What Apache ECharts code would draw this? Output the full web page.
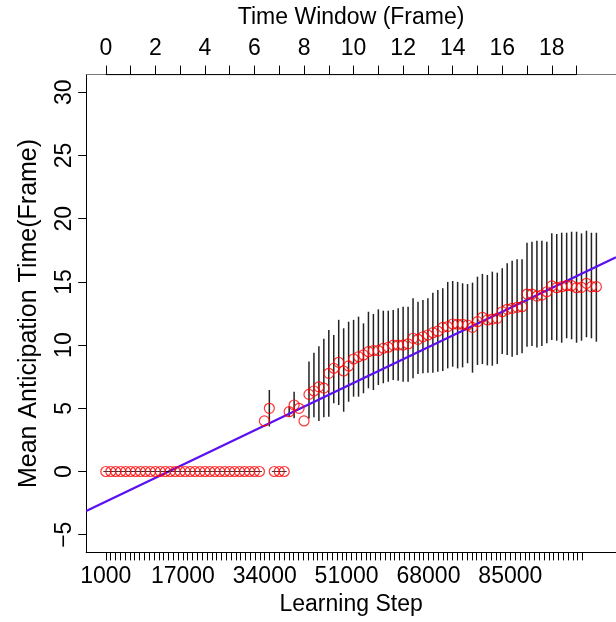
<!DOCTYPE html>
<html>
<head>
<meta charset="utf-8">
<script src="https://cdn.jsdelivr.net/npm/echarts@6/dist/echarts.min.js"></script>
<style>
html,body{margin:0;padding:0;background:#fff;}
#chart{width:616px;height:622px;}
</style>
</head>
<body>
<div id="chart"></div>
<script>
// ---- data ----
// learning steps 1000..100000 (one point every 1000 steps)
const stepCount = 100;
// mean anticipation time (frames), one per learning step
const meanTime = [
  0,0,0,0,0,0,0,0,0,0,
  0,0,0,0,0,0,0,0,0,0,
  0,0,0,0,0,0,0,0,0,0,
  0,0,4.0,5.0,0,0,0,4.73,5.26,5.0,
  4.0,6.1,6.37,6.7,6.6,7.77,8.17,8.64,7.95,8.35,
  8.9,9.08,9.22,9.48,9.56,9.56,9.75,9.83,10.0,10.0,
  10.0,10.09,10.54,10.46,10.66,10.8,10.98,11.1,11.4,11.46,
  11.67,11.65,11.65,11.59,11.4,11.85,12.2,11.99,12.06,12.12,
  12.64,12.83,12.91,12.99,13.04,14.04,14.04,13.88,13.96,14.22,
  14.68,14.54,14.62,14.7,14.7,14.54,14.57,14.89,14.62,14.62
];
// error bar upper ends (null = no bar)
const errHigh = [
  null,null,null,null,null,null,null,null,null,null,
  null,null,null,null,null,null,null,null,null,null,
  null,null,null,null,null,null,null,null,null,null,
  null,null,null,6.45,null,null,null,5.13,6.31,null,
  null,8.7,9.4,9.9,10.5,11.2,10.8,12.0,11.33,11.85,
  12.0,12.25,11.72,12.64,12.46,12.83,12.72,12.72,12.78,12.91,
  13.04,13.04,13.7,13.43,13.57,13.7,14.15,14.36,14.5,15.0,
  15.07,15.0,14.89,14.83,14.94,15.41,15.63,15.55,15.81,15.73,
  16.08,16.47,16.68,16.79,16.79,18.1,18.18,18.26,18.26,18.18,
  18.84,18.79,18.89,18.89,18.97,18.97,18.84,19.05,18.89,18.89
];
// error bar lower ends
const errLow = [
  null,null,null,null,null,null,null,null,null,null,
  null,null,null,null,null,null,null,null,null,null,
  null,null,null,null,null,null,null,null,null,null,
  null,null,null,3.56,null,null,null,4.34,4.21,null,
  null,4.2,4.3,4.0,4.3,4.34,5.4,5.26,4.73,5.52,
  5.92,5.92,6.19,6.58,6.45,6.84,6.98,7.1,7.24,7.18,
  7.1,7.1,7.37,7.71,7.77,7.82,7.82,7.9,7.95,8.16,
  8.29,8.16,8.24,8.56,7.82,8.43,8.5,8.4,8.37,8.5,
  9.3,9.22,9.08,9.22,9.35,9.87,9.93,9.82,9.93,10.14,
  10.4,10.35,10.19,10.54,10.46,10.19,10.35,10.62,10.54,10.27
];
// fitted regression line (in frame units)
const fitIntercept = -2.38;
const fitSlope = 0.9385;
// tick labels
const bottomLabels = [1000, 17000, 34000, 51000, 68000, 85000];
const topLabels = [0, 2, 4, 6, 8, 10, 12, 14, 16, 18];
const yLabels = [-5, 0, 5, 10, 15, 20, 25, 30];

// ---- build ----
const stepsPerFrame = 5; // points per frame on the top axis
const frameOf = i => i / stepsPerFrame;
const pts = [], zeroMarks = [], bars = [];
for (let i = 0; i < stepCount; i++) {
  pts.push([frameOf(i), meanTime[i]]);
  if (meanTime[i] === 0) zeroMarks.push([frameOf(i), 0]);
  if (errHigh[i] !== null) bars.push([frameOf(i), errLow[i], errHigh[i]]);
}
const bottomTicks = [];
for (let s = 1000; s <= 100000; s += 1000) bottomTicks.push(s);
const topTicks = [];
for (let f = 0; f <= 19; f++) topTicks.push(f);

const FONT = 'Liberation Sans, Arial, sans-serif';
const FS = 23;
const gridLeft = 86.2, gridTop = 74.6, gridW = 534.6, gridH = 477.8;
const frameMin = -0.792, frameMax = 20.592;
const stepMin = -3075, stepMax = 106947;
const minus = v => String(v).replace('-', '\u2212');

const chart = echarts.init(document.getElementById('chart'), null, {renderer: 'canvas'});
chart.setOption({
  animation: false,
  backgroundColor: '#fff',
  grid: {left: gridLeft, top: gridTop, width: gridW, height: gridH, containLabel: false},
  xAxis: [
    {
      type: 'value', position: 'bottom', min: stepMin, max: stepMax,
      name: 'Learning Step', nameLocation: 'middle', nameGap: 41,
      nameTextStyle: {fontFamily: FONT, fontSize: FS, color: '#000'},
      splitLine: {show: false},
      axisLine: {show: true, onZero: false, lineStyle: {color: '#000', width: 1}},
      axisTick: {show: true, length: 8, customValues: bottomTicks, lineStyle: {color: '#000', width: 1}},
      axisLabel: {customValues: bottomLabels, fontFamily: FONT, fontSize: FS, color: '#000', margin: 13,
        formatter: v => String(v)}
    },
    {
      type: 'value', position: 'top', min: frameMin, max: frameMax,
      name: 'Time Window (Frame)', nameLocation: 'middle', nameGap: 45,
      nameTextStyle: {fontFamily: FONT, fontSize: FS, color: '#000'},
      splitLine: {show: false},
      axisLine: {show: true, onZero: false, lineStyle: {color: '#777', width: 1}},
      axisTick: {show: true, length: 9, customValues: topTicks, lineStyle: {color: '#000', width: 1}},
      axisLabel: {customValues: topLabels, fontFamily: FONT, fontSize: FS, color: '#000', margin: 14}
    }
  ],
  yAxis: {
    type: 'value', min: -6.4, max: 31.4,
    name: 'Mean Anticipation Time(Frame)', nameLocation: 'middle', nameGap: 45,
    nameTextStyle: {fontFamily: FONT, fontSize: 25, color: '#000'},
    splitLine: {show: false},
    axisLine: {show: true, onZero: false, lineStyle: {color: '#000', width: 1}},
    axisTick: {show: true, length: 8, customValues: yLabels, lineStyle: {color: '#000', width: 1}},
    axisLabel: {customValues: yLabels, rotate: 90, fontFamily: FONT, fontSize: FS, color: '#000', margin: 10,
      formatter: minus}
  },
  series: [
    {
      // black segment of the top axis (frames 0..19)
      type: 'line', xAxisIndex: 1, data: [[0, 31.4], [19, 31.4]],
      symbol: 'none', lineStyle: {color: '#000', width: 1}, silent: true, clip: false, z: 5
    },
    {
      type: 'custom', xAxisIndex: 1, data: bars, z: 2,
      renderItem: (params, api) => {
        const p1 = api.coord([api.value(0), api.value(1)]);
        const p2 = api.coord([api.value(0), api.value(2)]);
        return {type: 'line', shape: {x1: p1[0], y1: p1[1], x2: p2[0], y2: p2[1]},
          style: {stroke: '#222', lineWidth: 1.5}};
      }
    },
    {
      type: 'scatter', xAxisIndex: 1, data: zeroMarks, symbol: 'rect', symbolSize: [5, 1],
      itemStyle: {color: '#000'}, z: 3, silent: true
    },
    {
      type: 'scatter', xAxisIndex: 1, data: pts, symbol: 'circle', symbolSize: 10,
      itemStyle: {color: 'rgba(0,0,0,0)', borderColor: '#ff0000', borderWidth: 1.2}, z: 4
    },
    {
      type: 'line', xAxisIndex: 1, symbol: 'none', clip: true, z: 3,
      data: [[frameMin, fitIntercept + fitSlope * frameMin], [frameMax, fitIntercept + fitSlope * frameMax]],
      lineStyle: {color: '#5a10f0', width: 2.2}
    }
  ]
});
</script>
</body>
</html>
